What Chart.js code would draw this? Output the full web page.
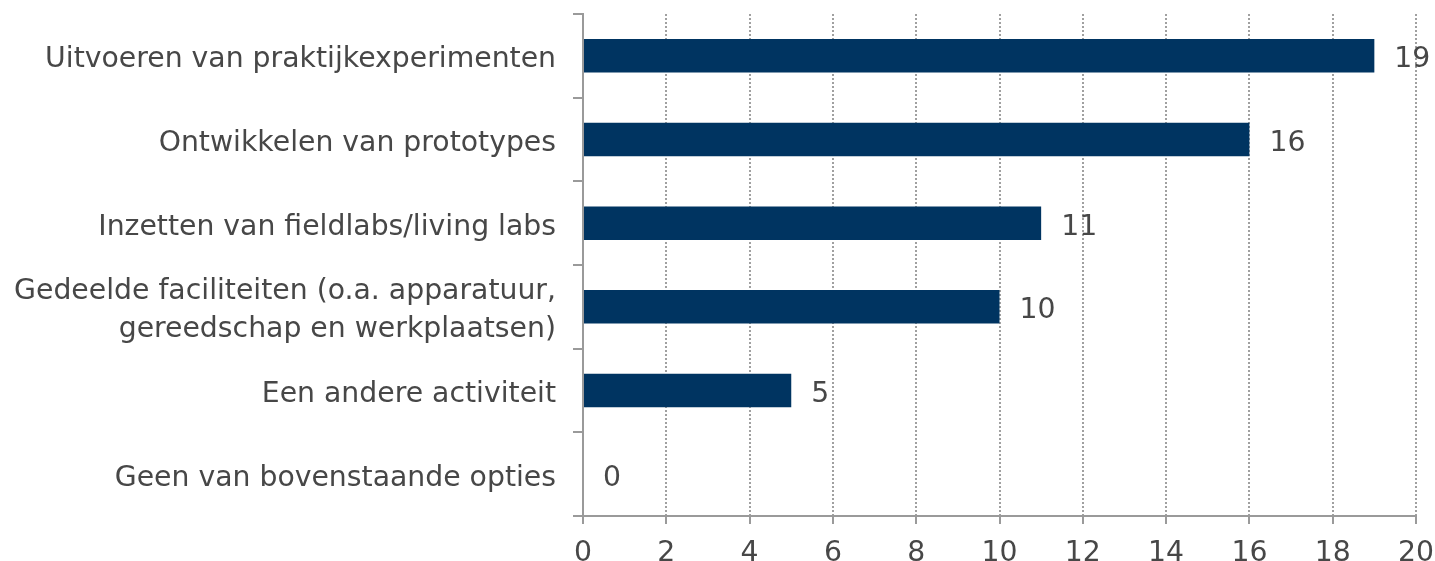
<!DOCTYPE html>
<html>
<head>
<meta charset="utf-8">
<script src="https://cdn.jsdelivr.net/npm/chart.js@4/dist/chart.umd.min.js"></script>
<style>
  html, body { margin: 0; padding: 0; background: #fff; }
  #wrap { width: 1435px; height: 561px; }
</style>
</head>
<body>
<div id="wrap"><canvas id="c" width="1435" height="561"></canvas></div>
<script>
const categories = [
  "Uitvoeren van praktijkexperimenten",
  "Ontwikkelen van prototypes",
  "Inzetten van fieldlabs/living labs",
  ["Gedeelde faciliteiten (o.a. apparatuur,", "gereedschap en werkplaatsen)"],
  "Een andere activiteit",
  "Geen van bovenstaande opties"
];
const values = [19, 16, 11, 10, 5, 0];
const xTicks = [0, 2, 4, 6, 8, 10, 12, 14, 16, 18, 20];

const FONT = "'DejaVu Sans', Verdana, sans-serif";
const FSIZE = 28.3;
const TEXT = '#474747';
const AXIS = '#9a9a9a';

const valueLabels = {
  id: 'valueLabels',
  afterDatasetsDraw(chart) {
    const ctx = chart.ctx;
    const meta = chart.getDatasetMeta(0);
    ctx.save();
    ctx.font = FSIZE + 'px ' + FONT;
    ctx.fillStyle = TEXT;
    ctx.textAlign = 'left';
    ctx.textBaseline = 'middle';
    meta.data.forEach((bar, i) => {
      ctx.fillText(String(values[i]), bar.x + 20, bar.y + 4);
    });
    ctx.restore();
  }
};

new Chart(document.getElementById('c'), {
  type: 'bar',
  data: {
    labels: categories,
    datasets: [{
      data: values,
      backgroundColor: '#003461',
      borderWidth: 0,
      barPercentage: 0.8,
      categoryPercentage: 0.5
    }]
  },
  options: {
    indexAxis: 'y',
    responsive: false,
    animation: false,
    layout: { padding: { top: 14, right: 19, bottom: 0, left: 0 } },
    plugins: { legend: { display: false }, tooltip: { enabled: false } },
    scales: {
      x: {
        min: 0, max: 20,
        afterBuildTicks(scale) { scale.ticks = xTicks.map(v => ({ value: v })); },
        afterFit(scale) { scale.height = 45; scale.paddingLeft = 0; scale.paddingRight = 0; },
        grid: {
          color: '#a0a0a0',
          lineWidth: 2,
          tickLength: 8,
          tickBorderDash: [],
          tickColor: AXIS
        },
        border: { display: true, color: AXIS, width: 2, dash: [2, 2] },
        ticks: { color: TEXT, font: { family: FONT, size: FSIZE }, padding: 13, maxRotation: 0 }
      },
      y: {
        afterFit(scale) { scale.width = 583; scale.paddingTop = 0; scale.paddingBottom = 0; },
        grid: {
          offset: true,
          drawOnChartArea: false,
          tickLength: 10,
          color: AXIS,
          lineWidth: 2
        },
        border: { display: true, color: AXIS, width: 2 },
        ticks: { color: TEXT, font: { family: FONT, size: FSIZE, lineHeight: 1.35 }, padding: 17, labelOffset: 4 }
      }
    }
  },
  plugins: [valueLabels]
});
</script>
</body>
</html>
